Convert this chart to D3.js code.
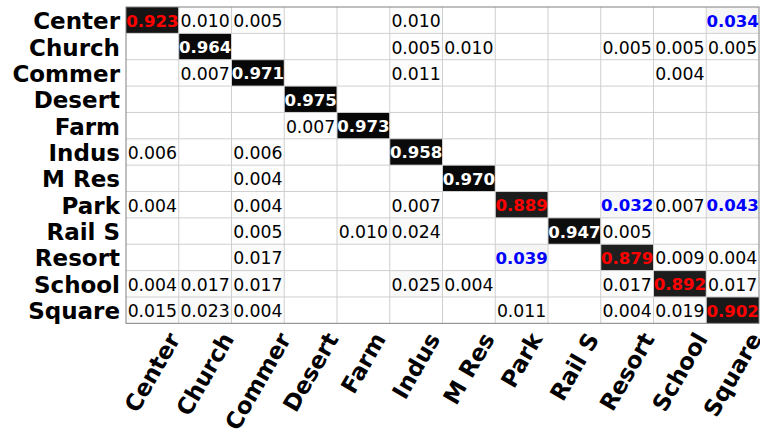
<!DOCTYPE html>
<html>
<head>
<meta charset="utf-8">
<script src="https://cdn.jsdelivr.net/npm/d3@7"></script>
<style>
  html, body { margin: 0; padding: 0; background: #fff; }
  text { font-family: "DejaVu Sans", sans-serif; }
</style>
</head>
<body>
<svg id="chart" width="760" height="432"></svg>
<script>
// class names (rows = true, cols = predicted)
const classes = ["Center", "Church", "Commer", "Desert", "Farm", "Indus",
                 "M Res", "Park", "Rail S", "Resort", "School", "Square"];

// confusion matrix rows, 0 = blank cell
const rowCenter = [0.923, 0.010, 0.005, 0, 0, 0.010, 0, 0, 0, 0, 0, 0.034];
const rowChurch = [0, 0.964, 0, 0, 0, 0.005, 0.010, 0, 0, 0.005, 0.005, 0.005];
const rowCommer = [0, 0.007, 0.971, 0, 0, 0.011, 0, 0, 0, 0, 0.004, 0];
const rowDesert = [0, 0, 0, 0.975, 0, 0, 0, 0, 0, 0, 0, 0];
const rowFarm   = [0, 0, 0, 0.007, 0.973, 0, 0, 0, 0, 0, 0, 0];
const rowIndus  = [0.006, 0, 0.006, 0, 0, 0.958, 0, 0, 0, 0, 0, 0];
const rowMRes   = [0, 0, 0.004, 0, 0, 0, 0.970, 0, 0, 0, 0, 0];
const rowPark   = [0.004, 0, 0.004, 0, 0, 0.007, 0, 0.889, 0, 0.032, 0.007, 0.043];
const rowRailS  = [0, 0, 0.005, 0, 0.010, 0.024, 0, 0, 0.947, 0.005, 0, 0];
const rowResort = [0, 0, 0.017, 0, 0, 0, 0, 0.039, 0, 0.879, 0.009, 0.004];
const rowSchool = [0.004, 0.017, 0.017, 0, 0, 0.025, 0.004, 0, 0, 0.017, 0.892, 0.017];
const rowSquare = [0.015, 0.023, 0.004, 0, 0, 0, 0, 0.011, 0, 0.004, 0.019, 0.902];

const matrix = [rowCenter, rowChurch, rowCommer, rowDesert, rowFarm, rowIndus,
                rowMRes, rowPark, rowRailS, rowResort, rowSchool, rowSquare];

const margin = {top: 7, left: 126};
const cellW = 52.75, cellH = 26.36;
const width = cellW * classes.length;
const height = cellH * classes.length;

const svg = d3.select("#chart");
const g = svg.append("g").attr("transform", "translate(" + margin.left + "," + margin.top + ")");

const x = d3.scaleBand().domain(classes).range([0, width]).paddingInner(0);
const y = d3.scaleBand().domain(classes).range([0, height]).paddingInner(0);
// gray_r colormap
const shade = d3.scaleLinear().domain([0, 1]).range(["#ffffff", "#000000"]);

const cells = [];
matrix.forEach((row, i) => {
  row.forEach((v, j) => {
    cells.push({r: classes[i], c: classes[j], v: v, diag: i === j});
  });
});

// cells
g.selectAll("rect.cell")
  .data(cells)
  .enter()
  .append("rect")
  .attr("class", "cell")
  .attr("x", d => x(d.c))
  .attr("y", d => y(d.r))
  .attr("width", x.bandwidth())
  .attr("height", y.bandwidth())
  .attr("fill", d => shade(d.v));

// grid lines
g.selectAll("line.vgrid")
  .data(classes.slice(1))
  .enter()
  .append("line")
  .attr("x1", d => x(d)).attr("x2", d => x(d))
  .attr("y1", 0).attr("y2", height)
  .attr("stroke", "#cfcfcf").attr("stroke-width", 1);
g.selectAll("line.hgrid")
  .data(classes.slice(1))
  .enter()
  .append("line")
  .attr("y1", d => y(d)).attr("y2", d => y(d))
  .attr("x1", 0).attr("x2", width)
  .attr("stroke", "#cfcfcf").attr("stroke-width", 1);

g.append("rect")
  .attr("x", 0).attr("y", 0)
  .attr("width", width).attr("height", height)
  .attr("fill", "none")
  .attr("stroke", "#808080")
  .attr("stroke-width", 1);

// values
function textColor(d) {
  if (d.diag) return d.v < 0.93 ? "#ff0000" : "#ffffff";
  return d.v >= 0.03 ? "#0000ff" : "#000000";
}
const isBold = d => d.diag || d.v >= 0.03;
g.selectAll("text.val")
  .data(cells.filter(d => d.v > 0))
  .enter()
  .append("text")
  .attr("class", "val")
  .attr("x", d => x(d.c) + x.bandwidth() / 2)
  .attr("y", d => y(d.r) + y.bandwidth() / 2 + 1)
  .attr("text-anchor", "middle")
  .attr("dominant-baseline", "central")
  .attr("font-size", d => isBold(d) ? "16.6px" : "17.3px")
  .attr("font-weight", d => isBold(d) ? "bold" : "normal")
  .attr("fill", textColor)
  .text(d => d.v.toFixed(3));

// row labels
g.selectAll("text.rowlab")
  .data(classes)
  .enter()
  .append("text")
  .attr("x", -6)
  .attr("y", d => y(d) + y.bandwidth() / 2 + 1)
  .attr("text-anchor", "end")
  .attr("dominant-baseline", "central")
  .attr("font-size", "23px")
  .attr("font-weight", "bold")
  .attr("fill", "#000")
  .text(d => d);

// column labels, rotated 60 deg, centred under each column
const colTop = height + 6;
const colLabs = g.selectAll("text.collab")
  .data(classes)
  .enter()
  .append("text")
  .attr("text-anchor", "middle")
  .attr("dominant-baseline", "central")
  .attr("font-size", "23px")
  .attr("font-weight", "bold")
  .attr("fill", "#000")
  .text(d => d);

colLabs.each(function(d) {
  const w = this.getComputedTextLength();
  const h = 22;
  const cx = x(d) + x.bandwidth() / 2;
  const cy = colTop + (w * Math.sin(Math.PI / 3) + h * 0.5) / 2;
  d3.select(this)
    .attr("x", 0).attr("y", 0)
    .attr("transform", "translate(" + cx + "," + cy + ") rotate(-60)");
});
</script>
</body>
</html>
